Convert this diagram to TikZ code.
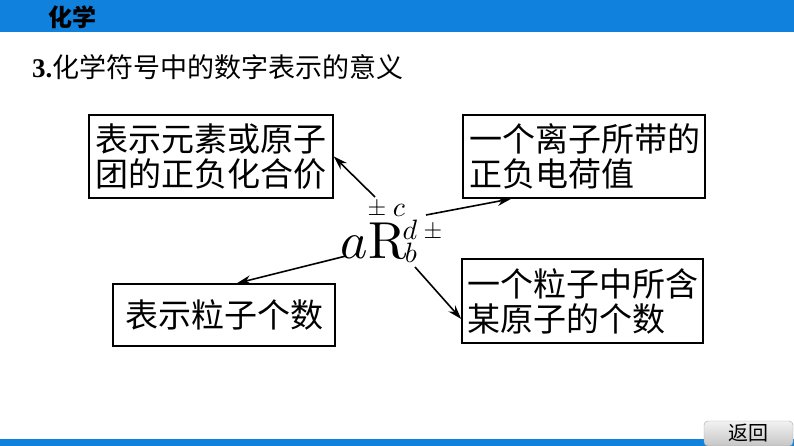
\documentclass[tikz,border=0pt]{standalone}
\usepackage[no-math]{fontspec}
\setmainfont{Liberation Serif}
\newfontfamily\cjk{Noto Sans CJK SC}
\usetikzlibrary{arrows.meta,calc}
\definecolor{barblue}{HTML}{1081DD}
\newcommand{\bigsym}[2]{\scalebox{#1}{$#2$}}

\begin{document}
\begin{tikzpicture}[x=1pt,y=-1pt,
            text-box/.style={draw,line width=1.6pt,inner sep=0pt,font=\cjk\fontsize{33}{35}\selectfont},
            link/.style={line width=1.6pt,-{Stealth[length=14pt,width=9pt]}},
            script/.style={inner sep=0pt},
        ]
            \useasboundingbox (0,0) rectangle (794,446);
            % page frame
            \fill[barblue] (0,0) rectangle (794,32);
            \fill[barblue] (0,439) rectangle (794,446);
            \node[font=\cjk\bfseries\fontsize{24}{24}\selectfont] (subject) at (72,17) {化学};
            \node[anchor=west,inner sep=0pt,font=\fontsize{27}{27}\selectfont] (title) at (32,67) {\textbf{3.}{\cjk 化学符号中的数字表示的意义}};
            \node[draw=gray!70,rounded corners=4pt,top color=gray!10,bottom color=gray!45,minimum width=89,minimum height=25,inner sep=0pt,font=\cjk\fontsize{20}{20}\selectfont] (back) at (748.5,433.5) {返回};

            % boxes
            \node[text-box,minimum width=244,minimum height=83,text width=232pt,align=left] (valence) at (211,156.5) {表示元素或原子\\团的正负化合价};
            \node[text-box,minimum width=242,minimum height=83,text width=230pt,align=left] (charge) at (584,156.5) {一个离子所带的\\正负电荷值};
            \node[text-box,minimum width=241,minimum height=84,text width=230pt,align=left] (atoms) at (582.5,301) {一个粒子中所含\\某原子的个数};
            \node[text-box,minimum width=222,minimum height=62] (count) at (224,315) {表示粒子个数};

            % symbol
            \node[inner sep=0pt,anchor=base] (R) at (388,258) {\bigsym{5.2}{\mathrm{R}}};
            \node[inner sep=0pt,anchor=base east] (a) at (R.base west) {\bigsym{5.2}{a}};
            \node[script] (pm-top) at (377,209) {\bigsym{2.4}{\pm}};
            \node[script] (c) at (399,210) {\bigsym{2.8}{c}};
            \node[script] (d) at (410,230) {\bigsym{2.8}{d}};
            \node[script] (b) at (411,253) {\bigsym{2.8}{b}};
            \node[script] (pm-right) at (433,232) {\bigsym{2.4}{\pm}};

            % arrows
            \coordinate (from-valence) at (375,197);
            \coordinate (from-charge) at (426,215);
            \coordinate (from-count) at (346,256);
            \coordinate (from-atoms) at (415,267);
            \draw[link] (from-valence) -- (valence.east);
            \draw[link] (from-charge) -- ($(charge.south west)+(49,0)$);
            \draw[link] (from-count) -- ($(count.north)+(13,0)$);
            \draw[link] (from-atoms) -- ($(atoms.west)+(0,18)$);
        \end{tikzpicture}
\end{document}
